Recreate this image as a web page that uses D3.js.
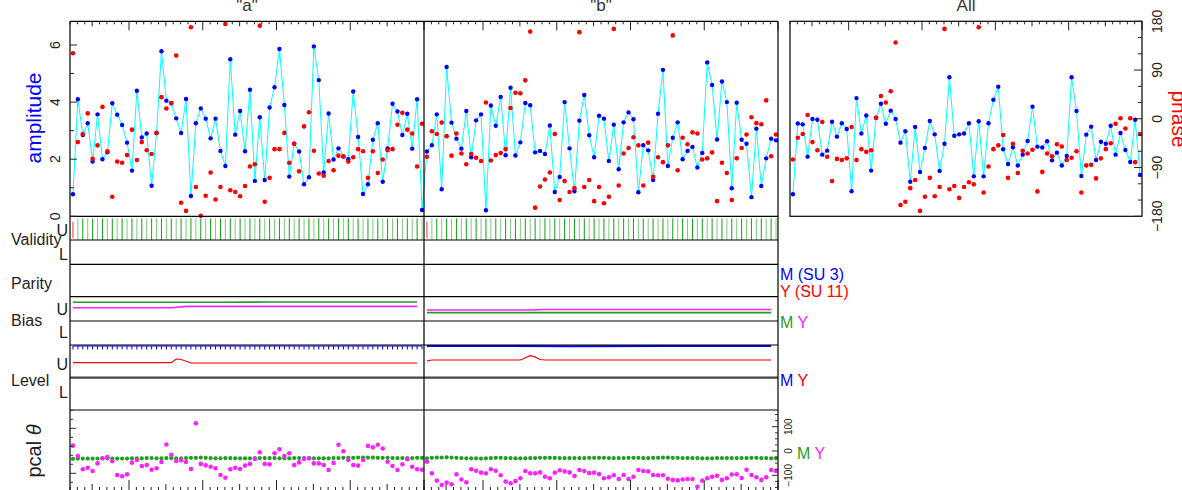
<!DOCTYPE html>
<html>
<head>
<meta charset="utf-8">
<script src="https://cdn.jsdelivr.net/npm/d3@7"></script>
<style>
  body { margin: 0; background: #fff; }
  svg { display: block; font-family: "Liberation Sans", Arial, sans-serif; }
</style>
</head>
<body>
<div id="chart"></div>
<script>
// panel titles
const panelTitles = ['"a"', '"b"', 'All'];

// amplitude / phase per sample
const ampA = [0.77,4.10,2.85,3.26,1.92,3.57,2.00,2.24,3.96,3.56, 3.20,2.58,1.60,4.40,2.76,2.90,1.07,2.92,5.78,4.05,
              3.96,3.43,2.92,4.11,0.71,3.26,3.78,3.42,2.73,3.42, 2.29,1.76,5.50,2.86,3.69,2.28,4.43,1.24,3.47,1.27,
              3.81,4.52,5.86,3.90,1.39,2.54,2.27,1.12,1.37,5.95, 4.77,1.54,3.60,1.99,2.38,2.09,2.00,4.37,2.78,0.78,
              1.12,2.68,3.26,1.21,2.38,3.94,3.67,2.85,3.59,2.37, 4.10,0.22];
const phaseA = [121,-43,-28,10,-74,-49,22,-60,-144,-79, -81,-67,-20,-76,-43,-58,-65,-26,40,19,
                29,117,-155,-170,169,-126,-179,-142,-99,-149, -126,175,-132,-135,-143,-124,-88,-84,172,-153,
                -109,-56,-56,-26,-81,-46,-97,-14,12,-59, -101,-105,-78,-95,-68,-69,-79,-71,-56,-60,
                -109,-60,-100,-75,-58,-56,-11,11,-20,-27, -88,-9];
const ampB = [2.27,2.49,3.57,0.95,5.23,3.28,2.72,2.37,3.69,2.07, 3.36,3.57,0.21,3.88,3.17,4.18,2.14,4.50,2.13,2.59,
              3.97,3.89,2.24,2.29,2.18,3.18,0.85,1.38,4.00,2.38, 0.88,3.35,4.25,2.84,2.07,3.52,3.42,1.94,3.21,1.65,
              3.29,3.64,3.40,0.84,2.49,2.31,1.27,3.59,5.13,1.76, 2.75,3.29,2.00,2.29,2.43,1.71,2.22,5.39,4.60,2.69,
              4.72,4.00,0.98,3.98,2.68,2.54,0.67,3.07,1.06,2.03, 2.72,2.66];
const phaseB = [-70,-23,-28,-7,-32,-68,-27,-64,-84,-65, -72,-78,30,-77,-67,-63,-56,20,48,47,
                71,161,-164,-125,-112,-99,-28,-150,-115,-135, -128,160,-126,-113,-152,-126,-156,-144,166,-123,
                -64,-54,-34,-49,-123,-44,-107,-71,-80,-49, 154,-95,-35,-47,-25,-27,-75,-73,-62,-152,
                -81,-100,-150,-73,-54,-29,3,-8,-10,34, -69,-29];
const ampAll = [0.77,3.25,3.22,2.09,3.41,3.38,2.16,2.30,3.31,2.79, 3.26,3.06,0.88,4.14,2.90,3.53,1.60,3.45,3.94,3.24,
                3.70,3.41,2.58,2.98,1.21,3.13,1.55,2.39,3.34,2.87, 1.59,2.54,4.87,2.82,2.87,2.90,3.26,1.40,3.33,1.40,
                3.26,4.08,4.54,2.35,1.83,2.42,1.78,2.16,2.64,3.84, 2.44,2.41,2.63,1.96,2.23,1.78,2.11,4.87,3.69,1.41,
                2.86,3.14,1.97,2.61,2.54,3.17,2.16,2.92,2.32,1.90, 3.38,1.45];
const phaseAll = [-75,-35,-28,7,-43,-58,-6,-70,-115,-74, -76,-73,-15,-76,-56,-61,-58,2,42,30,
                  51,141,-159,-153,-128,-113,-170,-144,-109,-143, -126,166,-130,-124,-146,-126,-117,-121,169,-136,
                  -88,-56,-49,-30,-109,-46,-100,-59,-64,-57, -134,-98,-64,-69,-47,-51,-76,-72,-60,-136,
                  -86,-85,-110,-73,-56,-45,-9,1,-18,1, -80,-28];

// validity flags (1 = valid)
const validA = '0111111111' + '1111111111' + '1111111111' + '1111111111' + '1111111111' + '1111111111' + '1111111111' + '11';
const validB = '0111111111' + '1111111111' + '1111111111' + '1111111111' + '1111111111' + '1111111111' + '1111111111' + '11';

// bias / level, [sample, fraction of the row]
const biasMA = [[0,0.78],[30,0.78],[40,0.79],[70,0.79]];
const biasYA = [[0,0.55],[20,0.55],[23,0.61],[70,0.61]];
const biasMB = [[0,0.35],[70,0.35]];
const biasYB = [[0,0.46],[21,0.46],[24,0.48],[70,0.48]];
const levelMA = [[0,0.97],[71,0.97]];
const levelYA = [[0,0.465],[20,0.465],[21,0.575],[22,0.56],[24,0.455],[70,0.455]];
const levelMB = [[0,0.97],[30,0.965],[50,0.97],[70,0.97]];
const levelYB = [[0,0.52],[1,0.545],[19,0.545],[21,0.675],[22,0.64],[23,0.56],[24,0.545],[70,0.545]];

// pcal phase
const pcalMA = [-32,-31,-31,-31,-31,-31,-30,-30,-31,-31, -31,-31,-30,-30,-30,-29,-29,-30,-30,-29,
                -29,-30,-30,-29,-28,-28,-27,-28,-29,-30, -30,-29,-29,-30,-30,-30,-30,-29,-29,-29,
                -29,-29,-30,-30,-30,-29,-29,-29,-30,-30, -30,-30,-30,-29,-29,-28,-28,-28,-27,-27,
                -27,-27,-28,-28,-28,-29,-29,-29,-29,-29, -28,-28];
const pcalYA = [22,-21,-75,-69,-82,-51,-30,-25,-42,-99, -104,-96,-48,-37,-62,-58,-77,-71,-45,27,
                -16,-41,-38,-45,-74,114,-53,-59,-65,-71, -99,-110,-75,-69,-74,-60,-53,-33,-5,-53,
                -55,-9,7,-21,-9,-58,-47,-33,-30,-51, -51,-58,-78,-49,26,-1,-37,-58,-60,-37,
                21,15,26,10,-44,-62,-78,-55,-34,-65, -75,-77];
const pcalMB = [-30,-28,-27,-27,-26,-27,-28,-29,-30,-30, -30,-31,-30,-29,-28,-28,-29,-29,-30,-30,
                -30,-29,-29,-28,-28,-28,-28,-29,-29,-29, -29,-29,-29,-28,-28,-28,-28,-29,-29,-29,
                -29,-28,-28,-28,-29,-29,-28,-28,-27,-27, -28,-28,-29,-29,-29,-29,-30,-30,-30,-29,
                -29,-29,-29,-29,-29,-29,-28,-28,-29,-29, -30,-30];
const pcalYB = [-44,-92,-122,-140,-130,-137,-96,-117,-129,-75, -81,-89,-92,-75,-81,-100,-126,-133,-124,-112,
                -82,-92,-92,-88,-106,-112,-89,-79,-84,-88, -103,-78,-82,-91,-89,-95,-112,-108,-100,-115,
                -99,-115,-106,-78,-82,-84,-99,-100,-100,-114, -119,-121,-117,-115,-115,-147,-122,-112,-106,-102,
                -119,-112,-97,-96,-111,-77,-99,-108,-119,-108, -78,-82];

// tick labels
const ampTicks = [0, 2, 4, 6];
const phaseTicks = [180, 90, 0, -90, -180];
const pcalTicks = [100, 0, -100];

const W = 1182, H = 490;
const GREEN = '#1f9e1f', MAGENTA = '#ff22ff', BLUE = '#0000ff', RED = '#ff0000', CYAN = '#00ffff';

const svg = d3.select('#chart').append('svg').attr('width', W).attr('height', H);

const xA = d3.scaleLinear().domain([0, 72]).range([70, 424]);
const xB = d3.scaleLinear().domain([0, 72]).range([424, 778]);
const xAll = d3.scaleLinear().domain([0, 72]).range([790, 1142]);
const px = (x, i) => x(i + 0.6);

const yAmp = d3.scaleLinear().domain([0, 6.83]).range([216.3, 21.3]);
const yPh = d3.scaleLinear().domain([-180, 180]).range([216.3, 21.3]);
const yBias = d3.scaleLinear().domain([0, 1]).range([321, 297]);
const yLevel = d3.scaleLinear().domain([0, 1]).range([378, 345]);
const yPcal = d3.scaleLinear().domain([0, 100]).range([451, 426.7]);
const yPcalL = d3.scaleLinear().domain([0, 1]).range([473.3, 428.3]);

const fmt = v => String(v).replace('-', '\u2212');

function hline(y, x1, x2, w, c) {
    svg.append('line').attr('x1', x1).attr('x2', x2).attr('y1', y).attr('y2', y)
        .attr('stroke', c || '#000').attr('stroke-width', w || 1.2);
}
function vline(x, y1, y2, w, c) {
    svg.append('line').attr('x1', x).attr('x2', x).attr('y1', y1).attr('y2', y2)
        .attr('stroke', c || '#000').attr('stroke-width', w || 1.2);
}
function label(txt, x, y, opt) {
    opt = opt || {};
    const t = svg.append('text').attr('font-size', opt.size || 16).attr('fill', opt.fill || '#222')
        .attr('text-anchor', opt.anchor || 'start');
    if (opt.rot) t.attr('transform', `translate(${x},${y}) rotate(${opt.rot})`);
    else t.attr('x', x).attr('y', y);
    t.text(txt);
    return t;
}

// time ticks (top of amplitude, bottom of pcal)
function timeTicks(x, y, dir, lens) {
    const g = svg.append('g');
    g.selectAll('line').data(d3.range(0, 49)).enter().append('line')
        .attr('x1', k => x(k * 1.5)).attr('x2', k => x(k * 1.5))
        .attr('y1', y)
        .attr('y2', k => {
            const m = (k - 8) % 10 === 0 ? lens[0] : ((k - 3) % 10 === 0 ? lens[1] : lens[2]);
            return y + dir * m;
        })
        .attr('stroke', '#222').attr('stroke-width', 1);
}
[xA, xB, xAll].forEach(x => timeTicks(x, 21.3, 1, [9, 5, 3]));
[xA, xB].forEach(x => timeTicks(x, 490, -1, [10, 6, 3]));

// titles
[xA, xB, xAll].forEach((x, i) => {
    label(panelTitles[i], (x.range()[0] + x.range()[1]) / 2, 11, {anchor: 'middle', size: 17, fill: '#333'});
});

// amplitude + phase
const line = d3.line();
const ptsAB = ampA.map((v, i) => [px(xA, i), yAmp(v)]).concat(ampB.map((v, i) => [px(xB, i), yAmp(v)]));
const ptsAll = ampAll.map((v, i) => [px(xAll, i), yAmp(v)]);
[ptsAB, ptsAll].forEach(p => {
    svg.append('path').attr('d', line(p)).attr('fill', 'none').attr('stroke', CYAN).attr('stroke-width', 1);
    svg.append('g').selectAll('circle').data(p).enter().append('circle')
        .attr('cx', d => d[0]).attr('cy', d => d[1]).attr('r', 2.2).attr('fill', BLUE);
});
[[phaseA, xA], [phaseB, xB], [phaseAll, xAll]].forEach(([arr, x]) => {
    svg.append('g').selectAll('circle').data(arr).enter().append('circle')
        .attr('cx', (d, i) => px(x, i)).attr('cy', d => yPh(d)).attr('r', 2.3).attr('fill', RED);
});

// validity
[[validA, xA], [validB, xB]].forEach(([flags, x]) => {
    svg.append('g').selectAll('line').data(flags.split('')).enter().append('line')
        .attr('x1', (d, i) => px(x, i)).attr('x2', (d, i) => px(x, i))
        .attr('y1', d => d === '1' ? 218.3 : 221.7).attr('y2', d => d === '1' ? 240 : 238)
        .attr('stroke', d => d === '1' ? '#11a011' : '#ff3030')
        .attr('stroke-opacity', (d, i) => i % 2 ? 0.55 : 1)
        .attr('stroke-width', 1);
});

// bias / level lines
function trace(arr, x, y, c, w) {
    const l = d3.line().x(d => px(x, d[0])).y(d => y(d[1]));
    svg.append('path').attr('d', l(arr)).attr('fill', 'none').attr('stroke', c).attr('stroke-width', w || 1.3);
}
trace(biasMA, xA, yBias, GREEN, 1.6);
trace(biasYA, xA, yBias, MAGENTA, 1.6);
trace(biasYB, xB, yBias, MAGENTA, 1.6);
trace(biasMB, xB, yBias, GREEN, 1.6);
trace(levelMA, xA, yLevel, BLUE, 1);
svg.append('g').selectAll('line').data(ampA).enter().append('line')
    .attr('x1', (d, i) => px(xA, i)).attr('x2', (d, i) => px(xA, i))
    .attr('y1', yLevel(0.97)).attr('y2', yLevel(0.97) + 3.5)
    .attr('stroke', BLUE).attr('stroke-width', 1);
trace(levelMB, xB, yLevel, BLUE, 2);
trace(levelYA, xA, yLevel, RED, 1.2);
trace(levelYB, xB, yLevel, RED, 1.2);

// pcal
[[pcalMA, xA, GREEN, 2.1], [pcalMB, xB, GREEN, 2.1], [pcalYA, xA, MAGENTA, 2.3], [pcalYB, xB, MAGENTA, 2.3]]
    .forEach(([arr, x, c, r]) => {
        svg.append('g').selectAll('circle').data(arr).enter().append('circle')
            .attr('cx', (d, i) => px(x, i)).attr('cy', d => yPcal(d)).attr('r', r).attr('fill', c);
    });

// frames
hline(21.3, 70, 778);
[216.3, 240, 264.3, 296.7, 321, 345, 410].forEach(y => hline(y, 70, 778));
hline(377.7, 70, 778, 2.3, '#444');
vline(70, 21.3, H);
vline(424, 21.3, H);
vline(778, 21.3, H);
svg.append('rect').attr('x', 790).attr('y', 21.3).attr('width', 352).attr('height', 195)
    .attr('fill', 'none').attr('stroke', '#000').attr('stroke-width', 1.2);

// amplitude axis
d3.range(0, 7).forEach(v => {
    const y = yAmp(v);
    hline(y, 70, 70 + (v % 2 === 0 ? 7 : 4), 1, '#222');
});
ampTicks.forEach(v => label(v, 60, yAmp(v), {rot: -90, anchor: 'middle', size: 14}));
label('amplitude', 41, 118, {rot: -90, anchor: 'middle', size: 21, fill: BLUE});

// phase axis
d3.range(-6, 7).forEach(k => {
    const y = yPh(k * 30);
    hline(y, 1142 - (k % 3 === 0 ? 8 : 4), 1142, 1, '#222');
});
phaseTicks.forEach(v => label(fmt(v), 1162, yPh(v), {rot: -90, anchor: 'middle', size: 14}));
label('phase', 1172, 119, {rot: 90, anchor: 'middle', size: 21, fill: RED});

// pcal axes
d3.range(-6, 7).forEach(k => {
    const y = yPcal(k * 25);
    if (y > 410 && y < H) hline(y, 778 - (k % 4 === 0 ? 6 : 3), 778, 1, '#333');
});
pcalTicks.forEach(v => label(fmt(v), 792, yPcal(v), {rot: -90, anchor: 'middle', size: 10}));
d3.range(-1, 8).forEach(k => {
    const y = yPcalL(k * 0.2);
    hline(y, 70, 70 + (k % 5 === 0 ? 6 : 3), 1, '#333');
});
const pl = label('pcal  ', 41, 451, {rot: -90, anchor: 'middle', size: 20});
pl.append('tspan').attr('font-style', 'italic').text('\u03b8');

// row labels
label('Validity', 11, 245);
label('U', 68, 236, {anchor: 'end'});
label('L', 68, 260, {anchor: 'end'});
label('Parity', 11, 289);
label('Bias', 11, 326);
label('U', 68, 315, {anchor: 'end'});
label('L', 68, 338, {anchor: 'end'});
label('Level', 11, 386);
label('U', 68, 370, {anchor: 'end'});
label('L', 68, 398, {anchor: 'end'});

// legends on the right
label('M (SU 3)', 780, 280, {fill: BLUE});
label('Y (SU 11)', 780, 297, {fill: RED});
const lb = label('M', 780, 328, {fill: GREEN});
lb.append('tspan').attr('fill', MAGENTA).text(' Y');
const ll = label('M', 780, 386, {fill: BLUE});
ll.append('tspan').attr('fill', RED).text(' Y');
const lp = label('M', 797, 459, {fill: GREEN});
lp.append('tspan').attr('fill', MAGENTA).text(' Y');
</script>
</body>
</html>
